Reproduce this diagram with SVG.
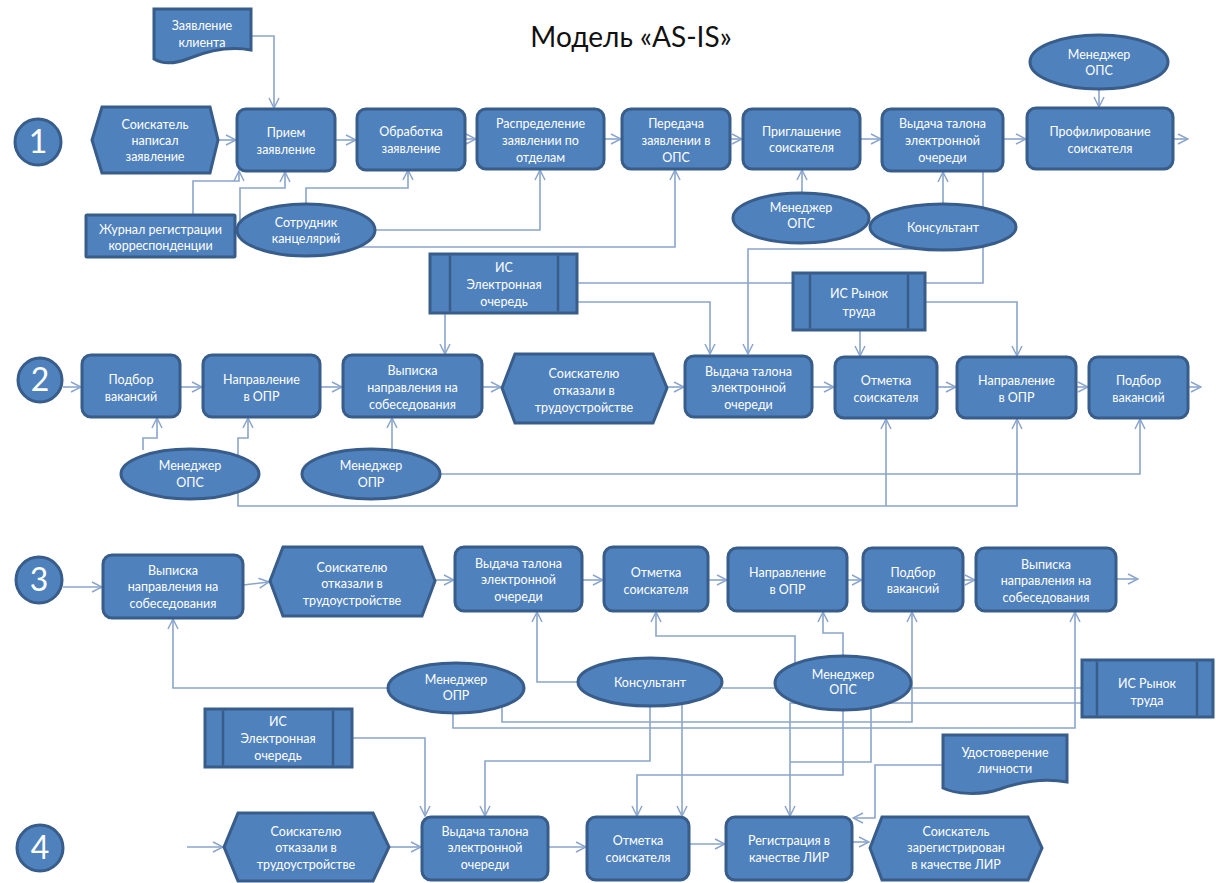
<svg xmlns="http://www.w3.org/2000/svg" width="1216" height="883" viewBox="0 0 1216 883">
<style>
.b{fill:#4f81bd;stroke:#385d8a;stroke-width:3}
.il{fill:none;stroke:#385d8a;stroke-width:2.5}
.t{font-family:Lato,"Noto Sans",sans-serif;font-size:12.5px;fill:#fff;text-anchor:middle}
.n{font-family:Lato,"Noto Sans",sans-serif;font-size:32px;fill:#fff;text-anchor:middle}
.c{fill:none;stroke:#8ba5cc;stroke-width:1.6}
.a{marker-end:url(#ah)}
</style>
<defs>
<marker id="ah" viewBox="0 0 12 12" refX="11" refY="6" markerWidth="12" markerHeight="12" markerUnits="userSpaceOnUse" orient="auto">
<path d="M1,1 L11,6 L1,11" fill="none" stroke="#8ba5cc" stroke-width="1.5"/>
</marker>
</defs>
<rect width="1216" height="883" fill="#fff"/>
<text x="631" y="47" font-family="Lato, 'Noto Sans', sans-serif" font-size="28" fill="#111" text-anchor="middle">Модель «AS-IS»</text>

<g id="connectors">
<!-- row 1 -->
<path class="c a" d="M251,36 H274 V108"/>
<path class="c a" d="M218,140 H236"/>
<path class="c a" d="M335,140 H356"/>
<path class="c a" d="M465,139 H476"/>
<path class="c a" d="M604,139 H621"/>
<path class="c a" d="M730,139 H742"/>
<path class="c a" d="M860,139 H881"/>
<path class="c a" d="M1003,139 H1026"/>
<path class="c a" d="M1173,139 H1188"/>
<path class="c a" d="M1099,89 V107"/>
<path class="c a" d="M193,215 V181 H239 V171"/>
<path class="c a" d="M240,222 V188 H285 V172"/>
<path class="c a" d="M306,204 V188 H408 V170"/>
<path class="c a" d="M375,230 H540 V170"/>
<path class="c a" d="M358,247 H675 V170"/>
<path class="c a" d="M802,193 V170"/>
<path class="c a" d="M943,204 V172"/>
<path class="c" d="M577,283 H983 V171"/>
<path class="c a" d="M925,249 H748 V354"/>
<path class="c a" d="M577,302 H710 V354"/>
<path class="c a" d="M445,313 V354"/>
<path class="c a" d="M860,330 V356"/>
<path class="c a" d="M925,302 H1017 V356"/>
<!-- row 2 -->
<path class="c a" d="M63,387 H81"/>
<path class="c a" d="M180,387 H202"/>
<path class="c a" d="M320,387 H342"/>
<path class="c a" d="M482,387 H501"/>
<path class="c a" d="M667,387 H684"/>
<path class="c a" d="M812,387 H834"/>
<path class="c a" d="M937,387 H956"/>
<path class="c a" d="M1076,387 H1088"/>
<path class="c a" d="M1188,387 H1201"/>
<path class="c a" d="M143,450 V438 H157 V418"/>
<path class="c a" d="M238,456 V438 H248 V418"/>
<path class="c a" d="M238,492 V506 H1017 V419"/>
<path class="c a" d="M886,506 V419"/>
<path class="c a" d="M392,450 V418"/>
<path class="c a" d="M440,474 H1140 V419"/>
<!-- row 3 -->
<path class="c a" d="M63,587 H102"/>
<path class="c a" d="M243,585 L269,582"/>
<path class="c a" d="M435,580 H454"/>
<path class="c a" d="M582,580 H603"/>
<path class="c a" d="M708,580 H727"/>
<path class="c a" d="M847,580 H862"/>
<path class="c a" d="M963,580 H975"/>
<path class="c a" d="M1116,579 H1138"/>
<path class="c a" d="M388,688 H173 V619"/>
<path class="c a" d="M578,682 H537 V612"/>
<path class="c a" d="M795,663 V636 H656 V612"/>
<path class="c a" d="M843,656 V633 H823 V612"/>
<path class="c a" d="M502,706 V722 H912 V612"/>
<path class="c a" d="M453,712 V728 H1075 V612"/>
<path class="c" d="M722,688 H1082"/>
<path class="c a" d="M1082,703 H790 V816"/>
<path class="c" d="M871,707 V762 H790"/>
<path class="c a" d="M843,709 V775 H637 V816"/>
<path class="c a" d="M650,706 V761 H485 V816"/>
<path class="c a" d="M682,703 V816"/>
<path class="c a" d="M352,738 H425 V816"/>
<path class="c a" d="M943,765 H875 V818 H853"/>
<!-- row 4 -->
<path class="c a" d="M187,847 H223"/>
<path class="c a" d="M389,847 H421"/>
<path class="c a" d="M548,847 H586"/>
<path class="c a" d="M689,844 H725"/>
<path class="c a" d="M852,842 H869"/>
</g>

<!-- circles -->
<g id="num1"><circle class="b" cx="38" cy="142" r="23"/><text class="n" x="38" y="153">1</text></g>
<g id="num2"><circle class="b" cx="40" cy="380" r="22"/><text class="n" x="40" y="391">2</text></g>
<g id="num3"><circle class="b" cx="39" cy="580" r="23"/><text class="n" x="39" y="591">3</text></g>
<g id="num4"><circle class="b" cx="40" cy="848" r="23"/><text class="n" x="40" y="859">4</text></g>

<!-- row 1 -->
<g id="zayavlenie-klienta"><path class="b" d="M154,9 H251 V50 C230,46 210,50 190,58 C175,64 162,64 154,59 Z"/><text class="t" x="202" y="29.5">Заявление<tspan x="202" dy="17">клиента</tspan></text></g>
<g id="soiskatel-napisal"><polygon class="b" points="92,140 102,107 210,107 218,140 210,173 102,173"/><text class="t" x="155" y="128.5">Соискатель<tspan x="155" dy="16">написал</tspan><tspan x="155" dy="16">заявление</tspan></text></g>
<g id="priem"><rect class="b" x="237" y="109" width="98" height="62" rx="9"/><text class="t" x="286" y="137">Прием<tspan x="286" dy="16.5">заявление</tspan></text></g>
<g id="obrabotka"><rect class="b" x="357" y="109" width="108" height="61" rx="9"/><text class="t" x="411" y="136">Обработка<tspan x="411" dy="16.5">заявление</tspan></text></g>
<g id="raspredelenie"><rect class="b" x="477" y="109" width="127" height="60" rx="9"/><text class="t" x="540.5" y="127.5">Распределение<tspan x="540.5" dy="17">заявлении по</tspan><tspan x="540.5" dy="17">отделам</tspan></text></g>
<g id="peredacha"><rect class="b" x="622" y="109" width="108" height="60" rx="9"/><text class="t" x="676" y="127.5">Передача<tspan x="676" dy="17">заявлении в</tspan><tspan x="676" dy="17">ОПС</tspan></text></g>
<g id="priglashenie"><rect class="b" x="743" y="109" width="117" height="60" rx="9"/><text class="t" x="801.5" y="136">Приглашение<tspan x="801.5" dy="16">соискателя</tspan></text></g>
<g id="vydacha1"><rect class="b" x="882" y="109" width="121" height="62" rx="9"/><text class="t" x="942.5" y="127.5">Выдача талона<tspan x="942.5" dy="17">электронной</tspan><tspan x="942.5" dy="17">очереди</tspan></text></g>
<g id="profilirovanie"><rect class="b" x="1027" y="108" width="146" height="61" rx="9"/><text class="t" x="1100" y="136">Профилирование<tspan x="1100" dy="16.5">соискателя</tspan></text></g>
<g id="menedzher-ops-0"><ellipse class="b" cx="1099" cy="62" rx="69" ry="27"/><text class="t" x="1099" y="58.5">Менеджер<tspan x="1099" dy="16.5">ОПС</tspan></text></g>
<g id="zhurnal"><rect class="b" x="86" y="215" width="149" height="42" rx="1"/><text class="t" x="160.5" y="233.5">Журнал регистрации<tspan x="160.5" dy="16">корреспонденции</tspan></text></g>
<g id="sotrudnik"><ellipse class="b" cx="306" cy="230" rx="69" ry="26"/><text class="t" x="306" y="227">Сотрудник<tspan x="306" dy="16">канцелярий</tspan></text></g>
<g id="menedzher-ops-1"><ellipse class="b" cx="801" cy="218" rx="68" ry="25"/><text class="t" x="801" y="211.5">Менеджер<tspan x="801" dy="16">ОПС</tspan></text></g>
<g id="konsultant-1"><ellipse class="b" cx="943" cy="227" rx="73" ry="23"/><text class="t" x="943" y="232">Консультант</text></g>
<g id="is-eo-1"><rect class="b" x="430" y="254" width="147" height="59"/><path class="il" d="M450,255.5 V311.5 M558,255.5 V311.5"/><text class="t" x="504" y="271.5">ИС<tspan x="504" dy="17">Электронная</tspan><tspan x="504" dy="17">очередь</tspan></text></g>
<g id="is-rt-1"><rect class="b" x="793" y="273" width="132" height="57"/><path class="il" d="M810,274.5 V328.5 M908,274.5 V328.5"/><text class="t" x="859" y="298">ИС Рынок<tspan x="859" dy="17.5">труда</tspan></text></g>

<!-- row 2 -->
<g id="podbor-2a"><rect class="b" x="82" y="355" width="98" height="62" rx="9"/><text class="t" x="131" y="383.5">Подбор<tspan x="131" dy="17">вакансий</tspan></text></g>
<g id="napravlenie-2a"><rect class="b" x="203" y="355" width="117" height="62" rx="9"/><text class="t" x="261.5" y="383.5">Направление<tspan x="261.5" dy="17">в ОПР</tspan></text></g>
<g id="vypiska-2"><rect class="b" x="343" y="355" width="139" height="62" rx="9"/><text class="t" x="412.5" y="374.5">Выписка<tspan x="412.5" dy="17">направления на</tspan><tspan x="412.5" dy="17">собеседования</tspan></text></g>
<g id="otkazali-2"><polygon class="b" points="502,388 515,354 653,354 667,388 653,423 515,423"/><text class="t" x="584" y="377.5">Соискателю<tspan x="584" dy="17">отказали в</tspan><tspan x="584" dy="17">трудоустройстве</tspan></text></g>
<g id="vydacha-2"><rect class="b" x="685" y="356" width="127" height="61" rx="9"/><text class="t" x="748.5" y="375.5">Выдача талона<tspan x="748.5" dy="16.5">электронной</tspan><tspan x="748.5" dy="16.5">очереди</tspan></text></g>
<g id="otmetka-2"><rect class="b" x="835" y="357" width="102" height="61" rx="9"/><text class="t" x="886" y="384.5">Отметка<tspan x="886" dy="17">соискателя</tspan></text></g>
<g id="napravlenie-2b"><rect class="b" x="957" y="357" width="119" height="61" rx="9"/><text class="t" x="1016.5" y="384.5">Направление<tspan x="1016.5" dy="17">в ОПР</tspan></text></g>
<g id="podbor-2b"><rect class="b" x="1089" y="357" width="99" height="61" rx="9"/><text class="t" x="1138.5" y="384.5">Подбор<tspan x="1138.5" dy="17">вакансий</tspan></text></g>
<g id="menedzher-ops-2"><ellipse class="b" cx="190" cy="474" rx="69" ry="25"/><text class="t" x="190" y="469.5">Менеджер<tspan x="190" dy="17">ОПС</tspan></text></g>
<g id="menedzher-opr-2"><ellipse class="b" cx="371" cy="474" rx="69" ry="25"/><text class="t" x="371" y="469.5">Менеджер<tspan x="371" dy="17">ОПР</tspan></text></g>

<!-- row 3 -->
<g id="vypiska-3a"><rect class="b" x="103" y="555" width="140" height="63" rx="9"/><text class="t" x="173" y="574.5">Выписка<tspan x="173" dy="16.5">направления на</tspan><tspan x="173" dy="16.5">собеседования</tspan></text></g>
<g id="otkazali-3"><polygon class="b" points="270,581 283,547 422,547 435,581 422,616 283,616"/><text class="t" x="352" y="571.5">Соискателю<tspan x="352" dy="16.5">отказали в</tspan><tspan x="352" dy="16.5">трудоустройстве</tspan></text></g>
<g id="vydacha-3"><rect class="b" x="455" y="547" width="127" height="64" rx="9"/><text class="t" x="518.5" y="567.5">Выдача талона<tspan x="518.5" dy="16.5">электронной</tspan><tspan x="518.5" dy="16.5">очереди</tspan></text></g>
<g id="otmetka-3"><rect class="b" x="604" y="547" width="104" height="64" rx="9"/><text class="t" x="656" y="576.5">Отметка<tspan x="656" dy="17">соискателя</tspan></text></g>
<g id="napravlenie-3"><rect class="b" x="728" y="548" width="119" height="63" rx="9"/><text class="t" x="787.5" y="576.5">Направление<tspan x="787.5" dy="17">в ОПР</tspan></text></g>
<g id="podbor-3"><rect class="b" x="863" y="548" width="100" height="63" rx="9"/><text class="t" x="913" y="576.5">Подбор<tspan x="913" dy="16.5">вакансий</tspan></text></g>
<g id="vypiska-3b"><rect class="b" x="976" y="548" width="140" height="63" rx="9"/><text class="t" x="1046" y="568.5">Выписка<tspan x="1046" dy="16.5">направления на</tspan><tspan x="1046" dy="16.5">собеседования</tspan></text></g>
<g id="menedzher-opr-3"><ellipse class="b" cx="456" cy="688" rx="68" ry="25"/><text class="t" x="456" y="683.5">Менеджер<tspan x="456" dy="16">ОПР</tspan></text></g>
<g id="konsultant-3"><ellipse class="b" cx="650" cy="682" rx="72" ry="24"/><text class="t" x="650" y="686.5">Консультант</text></g>
<g id="menedzher-ops-3"><ellipse class="b" cx="843" cy="683" rx="68" ry="27"/><text class="t" x="843" y="678.5">Менеджер<tspan x="843" dy="15.5">ОПС</tspan></text></g>
<g id="is-rt-3"><rect class="b" x="1082" y="660" width="131" height="57"/><path class="il" d="M1097,661.5 V715.5 M1197,661.5 V715.5"/><text class="t" x="1147" y="687.5">ИС Рынок<tspan x="1147" dy="17">труда</tspan></text></g>
<g id="is-eo-3"><rect class="b" x="205" y="709" width="147" height="58"/><path class="il" d="M223,710.5 V765.5 M333,710.5 V765.5"/><text class="t" x="278" y="725.5">ИС<tspan x="278" dy="17">Электронная</tspan><tspan x="278" dy="17">очередь</tspan></text></g>
<g id="udostoverenie"><path class="b" d="M943,735 H1067 V782 C1045,778 1020,782 1000,789 C980,796 955,794 943,788 Z"/><text class="t" x="1005" y="756.5">Удостоверение<tspan x="1005" dy="16">личности</tspan></text></g>

<!-- row 4 -->
<g id="otkazali-4"><polygon class="b" points="224,847 238,813 373,813 389,847 373,881 238,881"/><text class="t" x="306" y="835.5">Соискателю<tspan x="306" dy="16.5">отказали в</tspan><tspan x="306" dy="16.5">трудоустройстве</tspan></text></g>
<g id="vydacha-4"><rect class="b" x="422" y="817" width="126" height="63" rx="9"/><text class="t" x="485" y="835.5">Выдача талона<tspan x="485" dy="16.5">электронной</tspan><tspan x="485" dy="16.5">очереди</tspan></text></g>
<g id="otmetka-4"><rect class="b" x="587" y="817" width="102" height="63" rx="9"/><text class="t" x="638" y="844.5">Отметка<tspan x="638" dy="17">соискателя</tspan></text></g>
<g id="registraciya"><rect class="b" x="726" y="817" width="126" height="63" rx="9"/><text class="t" x="789" y="844.5">Регистрация в<tspan x="789" dy="17">качестве ЛИР</tspan></text></g>
<g id="zaregistrirovan"><polygon class="b" points="870,848 882,817 1028,817 1042,848 1028,880 882,880"/><text class="t" x="956" y="835.5">Соискатель<tspan x="956" dy="16.5">зарегистрирован</tspan><tspan x="956" dy="16.5">в качестве ЛИР</tspan></text></g>
</svg>
